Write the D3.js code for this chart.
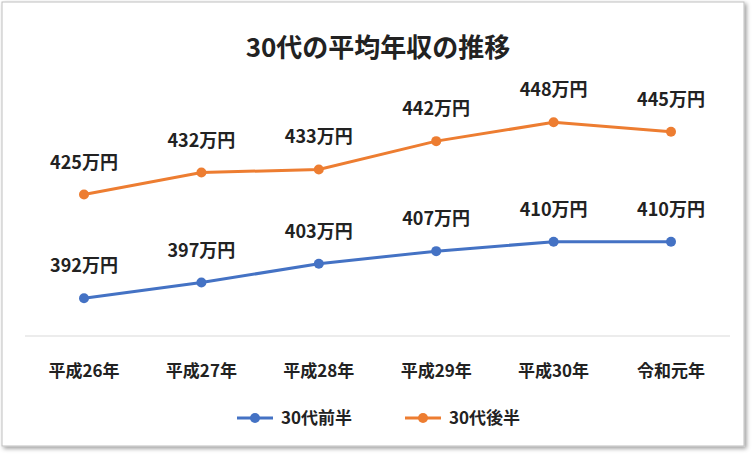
<!DOCTYPE html>
<html><head><meta charset="utf-8">
<script src="https://cdn.jsdelivr.net/npm/d3@7"></script>
<style>
body{margin:0;background:#fff;font-family:"Noto Sans CJK JP",sans-serif;}
</style></head>
<body><svg id="chart" width="755" height="455"></svg>
<script>
const categories = ['平成26年', '平成27年', '平成28年', '平成29年', '平成30年', '令和元年'];
const early30s = [392, 397, 403, 407, 410, 410];
const late30s = [425, 432, 433, 442, 448, 445];
const seriesNames = ['30代前半', '30代後半'];
const colors = ['#4472C4', '#ED7D31'];

const svg = d3.select('#chart');
const defs = svg.append('defs');
const f = defs.append('filter').attr('id', 'sh').attr('x', '-5%').attr('y', '-5%').attr('width', '110%').attr('height', '110%');
f.append('feDropShadow').attr('dx', 2).attr('dy', 2).attr('stdDeviation', 2).attr('flood-opacity', 0.4);

svg.append('rect').attr('x', 2).attr('y', 2).attr('width', 742).attr('height', 444)
    .attr('fill', '#fff').attr('stroke', '#bfbfbf').attr('filter', 'url(#sh)');

svg.append('text').attr('x', 378).attr('y', 57).attr('text-anchor', 'middle')
    .attr('font-size', 26).attr('font-weight', 'bold').attr('fill', '#222').text('30代の平均年収の推移');

const x = d3.scalePoint().domain(categories).range([84, 671]);
const y = d3.scaleLinear().domain([380, 450]).range([336, 116]);

svg.append('line').attr('x1', 25).attr('x2', 730).attr('y1', y(380)).attr('y2', y(380)).attr('stroke', '#d9d9d9');

svg.selectAll('.cat').data(categories).join('text')
    .attr('x', d => x(d)).attr('y', 377).attr('text-anchor', 'middle')
    .attr('font-size', 17).attr('font-weight', 'bold').attr('fill', '#222').text(d => d);

const line = d3.line().x((d, i) => x(categories[i])).y(d => y(d));
[early30s, late30s].forEach((vals, s) => {
    svg.append('path').attr('d', line(vals)).attr('fill', 'none').attr('stroke', colors[s]).attr('stroke-width', 3);
    svg.selectAll('.pt' + s).data(vals).join('circle')
        .attr('cx', (d, i) => x(categories[i])).attr('cy', d => y(d)).attr('r', 5).attr('fill', colors[s]);
    svg.selectAll('.lb' + s).data(vals).join('text')
        .attr('x', (d, i) => x(categories[i])).attr('y', d => y(d) - 26).attr('text-anchor', 'middle')
        .attr('font-size', 18).attr('font-weight', 'bold').attr('fill', '#222').text(d => d + '万円');
});

// legend
const lx = [237, 405];
seriesNames.forEach((n, s) => {
    const g = svg.append('g').attr('transform', 'translate(' + lx[s] + ',418)');
    g.append('line').attr('x1', 0).attr('x2', 36).attr('stroke', colors[s]).attr('stroke-width', 3);
    g.append('circle').attr('cx', 18).attr('r', 5).attr('fill', colors[s]);
    g.append('text').attr('x', 44).attr('y', 6).attr('font-size', 17).attr('font-weight', 'bold').attr('fill', '#222').text(n);
});
</script></body></html>
